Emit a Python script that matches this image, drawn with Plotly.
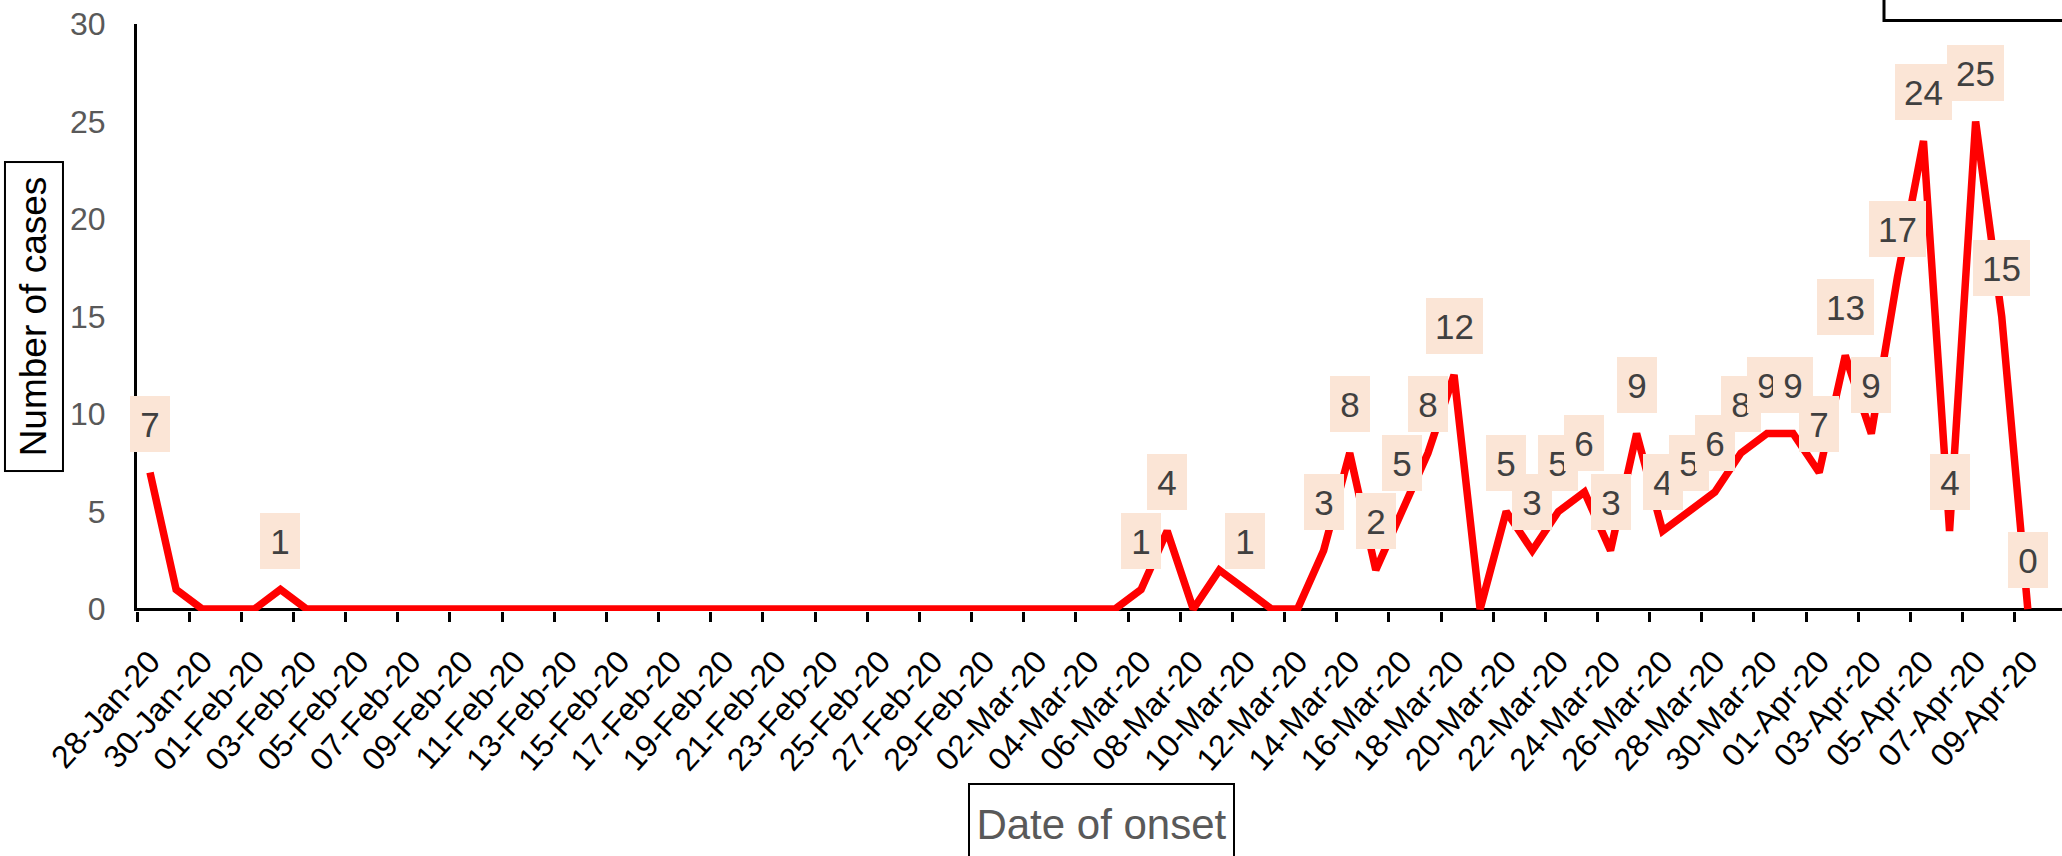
import plotly.graph_objects as go
import pandas as pd

# ---------------- data ----------------
dates = pd.date_range("2020-01-28", "2020-04-09", freq="D")
date_labels = [d.strftime("%d-%b-%y") for d in dates]

cases = [7, 1, 0, 0, 0, 1, 0, 0, 0, 0,
         0, 0, 0, 0, 0, 0, 0, 0, 0, 0,
         0, 0, 0, 0, 0, 0, 0, 0, 0, 0,
         0, 0, 0, 0, 0, 0, 0, 0, 1, 4,
         0, 2, 1, 0, 0, 3, 8, 2, 5, 8,
         12, 0, 5, 3, 5, 6, 3, 9, 4, 5,
         6, 8, 9, 9, 7, 13, 9, 17, 24, 4,
         25, 15, 0]

point_labels = ["7", "", "", "", "", "1", "", "", "", "",
                "", "", "", "", "", "", "", "", "", "",
                "", "", "", "", "", "", "", "", "", "",
                "", "", "", "", "", "", "", "", "1", "4",
                "", "", "1", "", "", "3", "8", "2", "5", "8",
                "12", "", "5", "3", "5", "6", "3", "9", "4", "5",
                "6", "8", "9", "9", "7", "13", "9", "17", "24", "4",
                "25", "15", "0"]

y_ticks = [0, 5, 10, 15, 20, 25, 30]
x_title = "Date of onset"
y_title = "Number of cases"

# ---------------- geometry ----------------
W, H = 2062, 856
L, R, T = 137, 0, 24
Y_MIN, Y_MAX = -0.1, 30
UNIT = 19.5
plot_h = (Y_MAX - Y_MIN) * UNIT
B = H - T - plot_h
plot_w = W - L - R
n = len(cases)
X_MAX = -0.5 + plot_w / 26.08


def pxx(px):
    return (px - L) / plot_w


def pxy(py):
    return (H - B - py) / plot_h


idx = list(range(n))

fig = go.Figure()
fig.add_trace(go.Scatter(
    x=idx, y=cases, mode="lines",
    line=dict(color="#FF0000", width=7.5),
    hoverinfo="skip", showlegend=False,
))
# helper trace to activate the overlaying tick-mark axis
fig.add_trace(go.Scatter(x=[None], y=[None], xaxis="x2", yaxis="y",
                         mode="lines", showlegend=False, hoverinfo="skip"))

for i, lab in enumerate(point_labels):
    if lab:
        fig.add_annotation(
            x=i, y=cases[i], xref="x", yref="y", text=lab, showarrow=False,
            yshift=49, width=40 if len(lab) == 1 else 57, height=56,
            bgcolor="#FBE5D6", borderpad=0, borderwidth=0,
            font=dict(family="Liberation Sans", size=35, color="#404040"),
        )

# axis titles in boxes
fig.add_annotation(
    x=pxx(34), y=pxy(317), xref="paper", yref="paper", text=y_title,
    showarrow=False, textangle=-90, width=307, height=56,
    bordercolor="black", borderwidth=2, borderpad=0, bgcolor="white",
    xanchor="center", yanchor="middle",
    font=dict(family="Liberation Sans", size=37, color="black"),
)
fig.add_annotation(
    x=pxx(1101.5), y=pxy(824), xref="paper", yref="paper", text=x_title,
    showarrow=False, width=263, height=78,
    bordercolor="black", borderwidth=2, borderpad=0, bgcolor="white",
    xanchor="center", yanchor="middle",
    font=dict(family="Liberation Sans", size=42, color="#595959"),
)

# partial legend frame at top right
fig.add_shape(type="rect", xref="paper", yref="paper",
              x0=pxx(1884), x1=pxx(2100), y0=pxy(20.5), y1=pxy(-40),
              line=dict(color="black", width=3), fillcolor="rgba(0,0,0,0)")

fig.update_layout(
    width=W, height=H, autosize=False,
    margin=dict(l=L, r=R, t=T, b=B, pad=0),
    plot_bgcolor="white", paper_bgcolor="white",
    showlegend=False,
    xaxis=dict(
        range=[-0.5, X_MAX], tickmode="array",
        tickvals=idx[::2], ticktext=date_labels[::2],
        tickangle=-48, ticks="outside", ticklen=18, tickcolor="rgba(0,0,0,0)",
        tickfont=dict(family="Liberation Sans", size=32, color="black"),
        showgrid=False, zeroline=False, showline=False, automargin=False,
    ),
    xaxis2=dict(
        overlaying="x", matches="x", side="bottom", anchor="y",
        range=[-0.5, X_MAX], tickmode="array",
        tickvals=[k - 0.5 for k in range(0, n + 1, 2)],
        ticks="outside", ticklen=10, tickwidth=3, tickcolor="black",
        showticklabels=False, showgrid=False, zeroline=False, showline=False,
    ),
    yaxis=dict(
        range=[Y_MIN, Y_MAX], tickmode="array", tickvals=y_ticks,
        ticks="outside", ticklen=22, tickcolor="rgba(0,0,0,0)",
        tickfont=dict(family="Liberation Sans", size=32, color="#595959"),
        showgrid=False, zeroline=True, zerolinecolor="black", zerolinewidth=3,
        showline=True, linecolor="black", linewidth=3, automargin=False,
    ),
)

fig.write_html(
    "out.html",
    config={"displayModeBar": False},
    post_script="document.body.style.margin='0';document.body.style.overflow='hidden';",
)
